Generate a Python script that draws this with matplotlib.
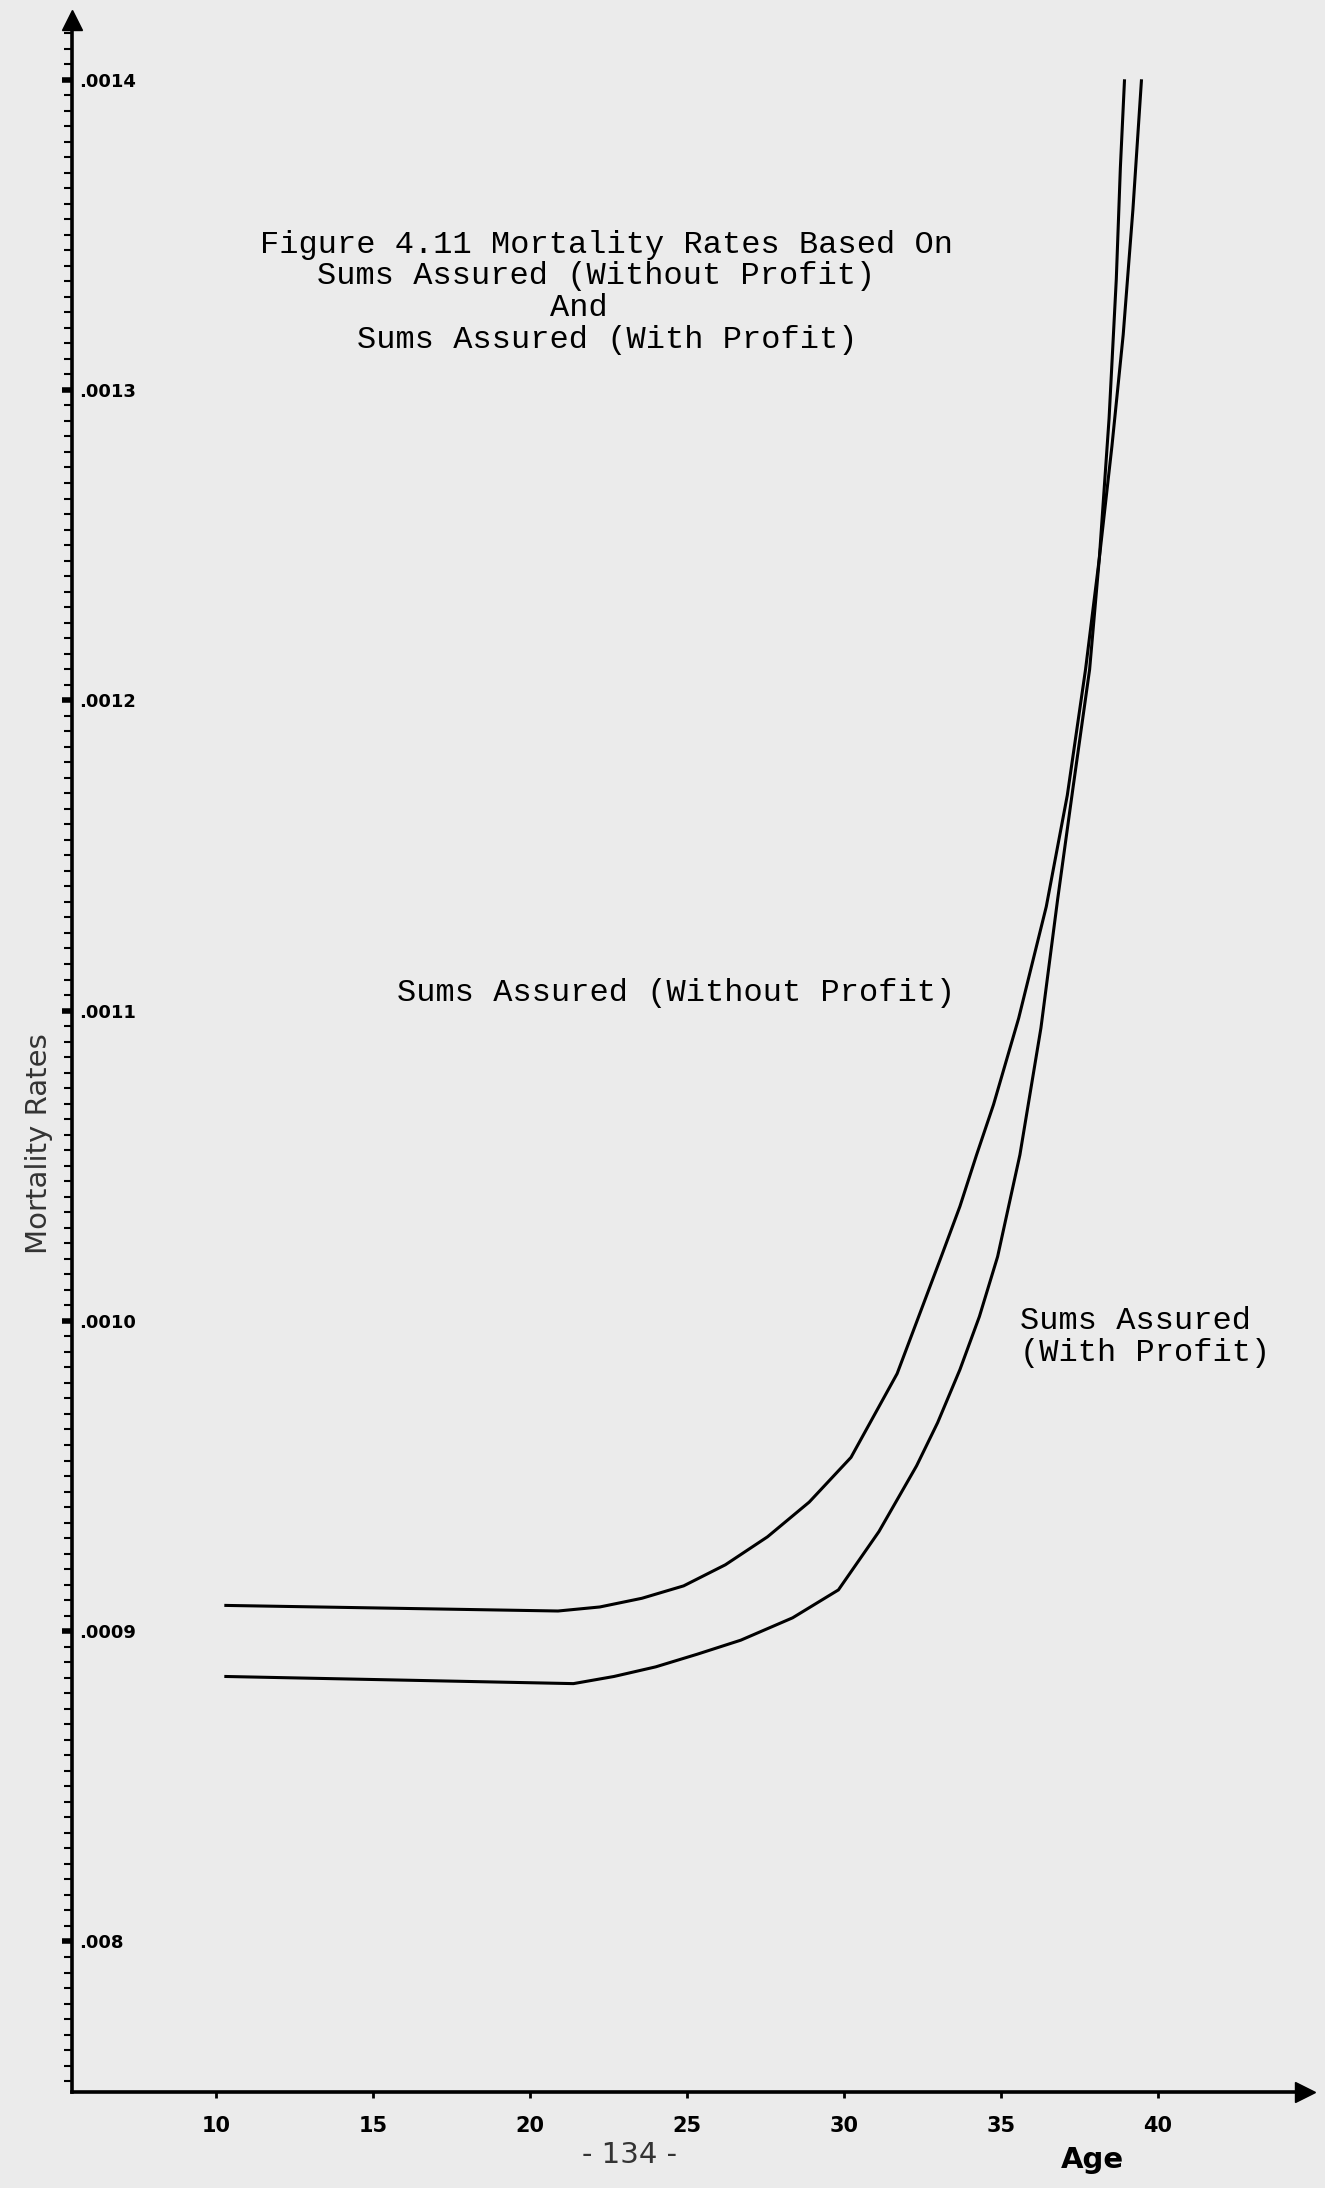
import matplotlib.pyplot as plt
from matplotlib.ticker import MultipleLocator

# values
age_without = [10.31, 20.89, 22.22, 23.56, 24.89, 26.22, 27.56, 28.89, 30.22, 31.69,
               32.44, 33.11, 33.69, 34.22, 34.76, 35.56, 36.44, 37.11, 37.69, 38.13,
               38.44, 38.67, 38.80, 38.93]
rate_without = [0.0009083, 0.0009065, 0.0009078, 0.0009106, 0.0009146, 0.0009214,
                0.0009304, 0.0009416, 0.0009560, 0.0009830, 0.0010031, 0.0010211,
                0.0010369, 0.0010535, 0.0010697, 0.0010975, 0.0011335, 0.0011694,
                0.0012099, 0.0012458, 0.0012908, 0.0013357, 0.0013717, 0.0013996]

age_with = [10.31, 21.38, 22.67, 24.00, 25.33, 26.71, 28.36, 29.82, 31.11, 32.31,
            32.98, 33.69, 34.31, 34.89, 35.60, 36.27, 36.80, 37.29, 37.82, 38.13,
            38.53, 38.89, 39.20, 39.47]
rate_with = [0.0008854, 0.0008831, 0.0008854, 0.0008885, 0.0008926, 0.0008971,
             0.0009043, 0.0009133, 0.0009321, 0.0009533, 0.0009672, 0.0009843,
             0.0010014, 0.0010207, 0.0010535, 0.0010944, 0.0011357, 0.0011717,
             0.0012099, 0.0012458, 0.0012818, 0.0013178, 0.0013582, 0.0013996]

x_ticks = [10, 15, 20, 25, 30, 35, 40]
y_ticks = [0.0008, 0.0009, 0.0010, 0.0011, 0.0012, 0.0013, 0.0014]
y_labels = ['.008', '.0009', '.0010', '.0011', '.0012', '.0013', '.0014']

title_lines = ['Figure 4.11 Mortality Rates Based On',
               'Sums Assured (Without Profit)',
               'And',
               'Sums Assured (With Profit)']

paper = '#ebebeb'
mono = 'Liberation Mono'

fig = plt.figure(figsize=(13.25, 21.88), dpi=100, facecolor=paper)
ax = fig.add_axes([72 / 1325, 1 - 2092 / 2188, (1305 - 72) / 1325, (2092 - 20) / 2188])
ax.set_facecolor(paper)

ax.plot(age_without, rate_without, color='black', lw=2.2, solid_joinstyle='round')
ax.plot(age_with, rate_with, color='black', lw=2.2, solid_joinstyle='round')

ax.set_xlim(5.41, 44.68)
ax.set_ylim(0.0007515, 0.0014192)

for s in ['top', 'right']:
    ax.spines[s].set_visible(False)
for s in ['left', 'bottom']:
    ax.spines[s].set_linewidth(2.6)

# arrow heads on the axes
ax.plot(1, 0, '>', color='black', ms=14, transform=ax.transAxes, clip_on=False)
ax.plot(0, 1, '^', color='black', ms=14, transform=ax.transAxes, clip_on=False)

ax.set_xticks(x_ticks)
ax.set_xticklabels([str(v) for v in x_ticks], fontsize=15, fontweight='bold')
ax.tick_params(axis='x', direction='out', length=4, width=2, pad=13)

ax.set_yticks(y_ticks)
ax.set_yticklabels(y_labels, fontsize=13, fontweight='bold')
ax.yaxis.set_minor_locator(MultipleLocator(0.000005))
ax.tick_params(axis='y', which='major', direction='out', length=7, width=4, pad=-12)
ax.tick_params(axis='y', which='minor', direction='out', length=6, width=1.5)
for lab in ax.get_yticklabels():
    lab.set_horizontalalignment('left')

# title, typed in the middle of the page
title_x = [607, 596, 579, 607]
title_y = [245, 276, 308, 340]
for line, tx, ty in zip(title_lines, title_x, title_y):
    fig.text(tx / 1325, 1 - ty / 2188, line, family=mono, fontsize=23,
             ha='center', va='center')

fig.text(676 / 1325, 1 - 993 / 2188, 'Sums Assured (Without Profit)',
         family=mono, fontsize=23, ha='center', va='center')
fig.text(1020 / 1325, 1 - 1321 / 2188, 'Sums Assured', family=mono, fontsize=23,
         ha='left', va='center')
fig.text(1020 / 1325, 1 - 1353 / 2188, '(With Profit)', family=mono, fontsize=23,
         ha='left', va='center')

fig.text(39 / 1325, 1 - 1144 / 2188, 'Mortality Rates', rotation=90, fontsize=21,
         color='#333333', ha='center', va='center')
fig.text(1092 / 1325, 1 - 2160 / 2188, 'Age', fontsize=21, fontweight='bold',
         ha='center', va='center')
fig.text(630 / 1325, 1 - 2155 / 2188, '- 134 -', fontsize=21, color='#333333',
         ha='center', va='center')

fig.savefig('out.png', dpi=100, facecolor=paper)
